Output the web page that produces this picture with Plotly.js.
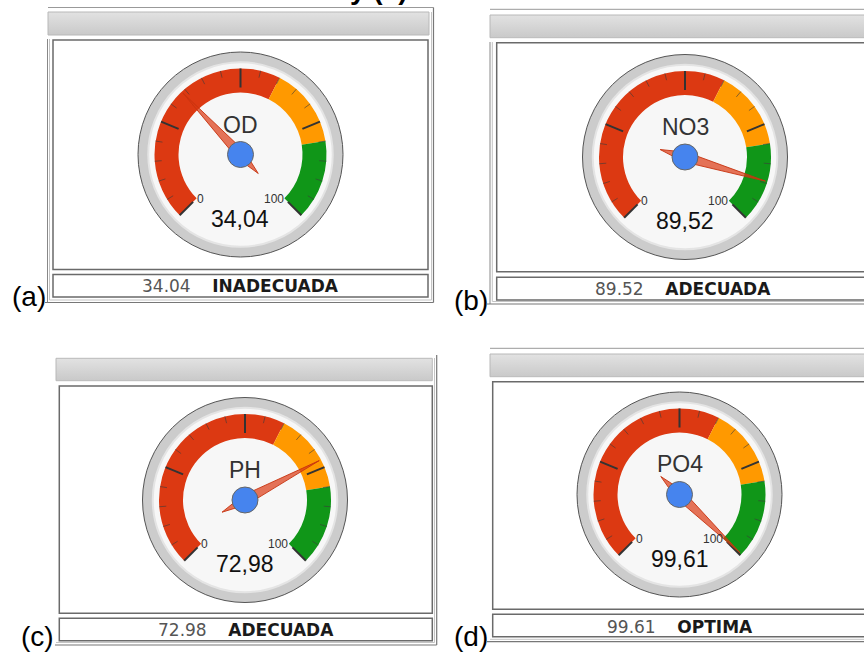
<!DOCTYPE html>
<html>
<head>
<meta charset="utf-8">
<script src="https://cdn.plot.ly/plotly-3.0.1.min.js"></script>
<style>html,body{margin:0;padding:0;background:#fff;}#chart{width:864px;height:653px;}</style>
</head>
<body>
<div id="chart"></div>
<script>
// ---------- data ----------
const gaugeLabels = ['OD', 'NO3', 'PH', 'PO4'];
const gaugeValues = [34.04, 89.52, 72.98, 99.61];
const statusTexts = ['INADECUADA', 'ADECUADA', 'ADECUADA', 'OPTIMA'];
const panelTags = ['(a)', '(b)', '(c)', '(d)'];
const bandFrom = [0, 60, 80];
const bandTo = [60, 80, 100];
const bandColors = ['#dc3912', '#ff9900', '#109618'];
const scaleMin = 0;
const scaleMax = 100;
const majorTicks = [0, 25, 50, 75, 100];
const minorTicks = [5, 10, 15, 20, 30, 35, 40, 45, 55, 60, 65, 70, 80, 85, 90, 95];

// ---------- layout helpers ----------
const W = 864, H = 653;
const R = 102.5;
const SWEEP = 270;
const centers = [[240.5, 154.5], [685, 157], [245, 500], [679.5, 494.5]];
const statusPos = [[240.5, 286], [683.3, 289], [245.8, 630], [680, 627]];
const tagPos = [[29.2, 297], [470.8, 300], [37.5, 636], [470.5, 636]];
function px(x) { return x / W; }
function py(y) { return 1 - y / H; }
function ang(v) { return (v - scaleMin) / (scaleMax - scaleMin) * SWEEP; }

const traces = [];
const layout = {
  width: W, height: H,
  margin: {l: 0, r: 0, t: 0, b: 0},
  paper_bgcolor: '#ffffff',
  plot_bgcolor: '#ffffff',
  showlegend: false,
  shapes: [], annotations: [], images: []
};

gaugeValues.forEach(function (val, i) {
  const cx = centers[i][0], cy = centers[i][1];
  const pid = i === 0 ? 'polar' : 'polar' + (i + 1);
  layout[pid] = {
    domain: {x: [px(cx - R), px(cx + R)], y: [py(cy + R), py(cy - R)]},
    bgcolor: '#cccccc',
    barmode: 'overlay',
    hole: 0,
    radialaxis: {visible: false, range: [0, R]},
    angularaxis: {rotation: 225, direction: 'clockwise', showline: true, linecolor: '#555555',
      linewidth: 1, showgrid: false, showticklabels: false, ticks: ''}
  };
  // face
  traces.push({type: 'barpolar', subplot: pid, r: [0.9 * R], base: [0], theta: [180], width: [360],
    marker: {color: '#f7f7f7', line: {color: '#e4e4e4', width: 2}}, hoverinfo: 'skip'});
  // colour bands
  traces.push({type: 'barpolar', subplot: pid,
    r: bandFrom.map(function () { return 24; }),
    base: bandFrom.map(function () { return 62; }),
    theta: bandFrom.map(function (f, k) { return (ang(f) + ang(bandTo[k])) / 2; }),
    width: bandFrom.map(function (f, k) { return ang(bandTo[k]) - ang(f); }),
    marker: {color: bandColors, line: {width: 0}}, hoverinfo: 'skip'});
  // minor ticks
  const mr = [], mt = [];
  minorTicks.forEach(function (v) { mr.push(79, 86, null); mt.push(ang(v), ang(v), null); });
  traces.push({type: 'scatterpolar', subplot: pid, mode: 'lines', r: mr, theta: mt,
    line: {color: 'rgba(60,60,60,0.6)', width: 1}, hoverinfo: 'skip'});
  // major ticks
  const Mr = [], Mt = [];
  majorTicks.forEach(function (v) { Mr.push(67, 86, null); Mt.push(ang(v), ang(v), null); });
  traces.push({type: 'scatterpolar', subplot: pid, mode: 'lines', r: Mr, theta: Mt,
    line: {color: '#333333', width: 2}, hoverinfo: 'skip'});
  // needle
  const t = ang(val);
  traces.push({type: 'scatterpolar', subplot: pid, mode: 'lines', fill: 'toself',
    r: [84, 5, 26, 5, 84], theta: [t, t + 90, t + 180, t - 90, t],
    fillcolor: 'rgba(220,57,18,0.7)', line: {color: 'rgba(198,51,16,0.9)', width: 1}, hoverinfo: 'skip'});
  // hub
  traces.push({type: 'scatterpolar', subplot: pid, mode: 'markers', r: [0], theta: [0],
    marker: {size: 26, color: '#4684ee', line: {color: '#666666', width: 1}}, hoverinfo: 'skip'});

  // texts
  layout.annotations.push({xref: 'paper', yref: 'paper', x: px(cx), y: py(cy - 30), text: gaugeLabels[i],
    showarrow: false, xanchor: 'center', yanchor: 'middle', font: {family: 'Liberation Sans, Arial', size: 23, color: '#333333'}});
  layout.annotations.push({xref: 'paper', yref: 'paper', x: px(cx), y: py(cy + 64), text: val.toFixed(2).replace('.', ','),
    showarrow: false, xanchor: 'center', yanchor: 'middle', font: {family: 'Liberation Sans, Arial', size: 23, color: '#111111'}});
  layout.annotations.push({xref: 'paper', yref: 'paper', x: px(cx - 40.5), y: py(cy + 44), text: String(scaleMin),
    showarrow: false, xanchor: 'center', yanchor: 'middle', font: {family: 'Liberation Sans, Arial', size: 12, color: '#333333'}});
  layout.annotations.push({xref: 'paper', yref: 'paper', x: px(cx + 33), y: py(cy + 44), text: String(scaleMax),
    showarrow: false, xanchor: 'center', yanchor: 'middle', font: {family: 'Liberation Sans, Arial', size: 12, color: '#333333'}});
  layout.annotations.push({xref: 'paper', yref: 'paper', x: px(statusPos[i][0]), y: py(statusPos[i][1]),
    text: '<span style="color:#555555">' + val.toFixed(2) + '</span>\u00a0\u00a0\u00a0\u00a0<b>' + statusTexts[i] + '</b>',
    showarrow: false, xanchor: 'center', yanchor: 'middle', font: {family: 'DejaVu Sans, Verdana', size: 17, color: '#1a1a1a'}});
  layout.annotations.push({xref: 'paper', yref: 'paper', x: px(tagPos[i][0]), y: py(tagPos[i][1]), text: panelTags[i],
    showarrow: false, xanchor: 'center', yanchor: 'middle', font: {family: 'Liberation Sans, Arial', size: 28, color: '#000000'}});
});

// cut-off caption fragment at the very top
layout.annotations.push({xref: 'paper', yref: 'paper', x: px(410), y: py(-11), text: '<b>y (a)</b>',
  showarrow: false, xanchor: 'right', yanchor: 'middle', font: {family: 'Liberation Sans, Arial', size: 28, color: '#000'}});

// ---------- frames ----------
function seg(x0, y0, x1, y1, c, w) {
  layout.shapes.push({type: 'line', xref: 'paper', yref: 'paper', x0: px(x0), y0: py(y0), x1: px(x1), y1: py(y1),
    line: {color: c, width: w}, layer: 'below'});
}
function box(x0, y0, x1, y1) {
  layout.shapes.push({type: 'rect', xref: 'paper', yref: 'paper', x0: px(x0), y0: py(y1), x1: px(x1), y1: py(y0),
    line: {color: '#6a6a6a', width: 1.5}, fillcolor: '#ffffff', layer: 'below'});
}
const grad = 'data:image/svg+xml;utf8,' + encodeURIComponent(
  '<svg xmlns="http://www.w3.org/2000/svg" width="100" height="24" preserveAspectRatio="none">' +
  '<defs><linearGradient id="g" x1="0" y1="0" x2="0" y2="1"><stop offset="0" stop-color="#e2e2e2"/>' +
  '<stop offset="1" stop-color="#c9c9c9"/></linearGradient></defs>' +
  '<rect x="0" y="0" width="100" height="24" fill="url(#g)"/></svg>');
function header(x0, y0, x1, y1) {
  layout.images.push({source: grad, xref: 'paper', yref: 'paper', x: px(x0), y: py(y0),
    sizex: px(x1) - px(x0), sizey: (y1 - y0) / H, sizing: 'stretch', xanchor: 'left', yanchor: 'top', layer: 'below'});
  layout.shapes.push({type: 'rect', xref: 'paper', yref: 'paper', x0: px(x0), y0: py(y1), x1: px(x1), y1: py(y0),
    line: {color: '#b8b8b8', width: 1}, layer: 'above'});
}

// panel (a)
seg(48, 7.5, 433.5, 7.5, '#999999', 1);
seg(433.5, 7.5, 433.5, 302.5, '#777777', 1.2);
seg(431.5, 12, 431.5, 300, '#c4c4c4', 1);
seg(45, 302.5, 433.5, 302.5, '#777777', 1.2);
seg(49.5, 300, 431.5, 300, '#c4c4c4', 1);
seg(47.5, 39, 47.5, 302.5, '#888888', 1);
seg(49.5, 39, 49.5, 300, '#c4c4c4', 1);
header(48, 12, 429, 35);
box(53, 40, 428, 269.5);
box(53, 274.5, 428, 297);

// panel (b)
seg(490, 9.3, 870, 9.3, '#999999', 1);
seg(490, 42, 490, 304, '#888888', 1);
seg(492.3, 42, 492.3, 301.5, '#c4c4c4', 1);
seg(487, 304, 870, 304, '#777777', 1.2);
seg(492.3, 301.5, 870, 301.5, '#c4c4c4', 1);
header(490, 15, 870, 37.7);
box(496.7, 42.7, 870, 271.7);
box(496.7, 277.3, 870, 300);

// panel (c)
seg(436.7, 355, 436.7, 645, '#777777', 1.2);
seg(434.5, 358, 434.5, 642.5, '#c4c4c4', 1);
seg(55, 645, 436.7, 645, '#777777', 1.2);
seg(56, 642.5, 434.5, 642.5, '#c4c4c4', 1);
header(56, 358.3, 432.3, 380.7);
box(59.3, 386, 432.3, 613.3);
box(59.3, 618.3, 432.3, 640.7);

// panel (d)
seg(490, 348.3, 870, 348.3, '#999999', 1);
seg(487, 641.7, 870, 641.7, '#777777', 1.2);
seg(490, 639.3, 870, 639.3, '#c4c4c4', 1);
header(490, 354, 870, 376.7);
box(492.7, 381.7, 870, 609.3);
box(492.7, 614.3, 870, 636.7);

Plotly.newPlot('chart', traces, layout, {staticPlot: true, displayModeBar: false});
</script>
</body>
</html>
